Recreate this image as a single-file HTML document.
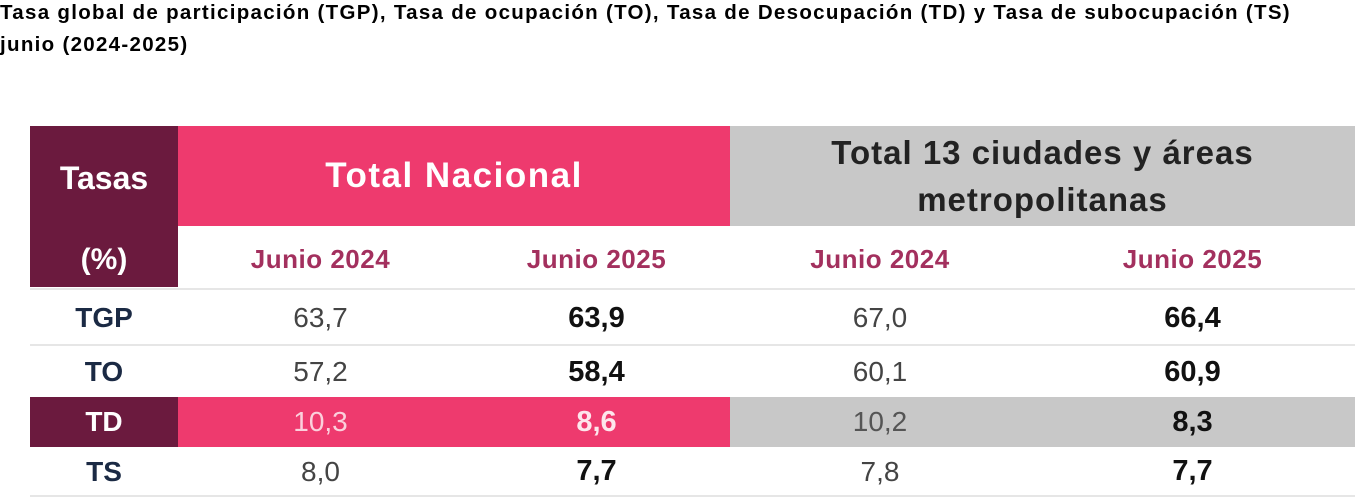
<!DOCTYPE html>
<html><head><meta charset="utf-8"><style>
body{margin:0;width:1355px;height:497px;background:#fff;font-family:"Liberation Sans","DejaVu Sans",sans-serif;position:relative;overflow:hidden}
.a{position:absolute}
.t{left:0;font-weight:bold;font-size:20.5px;letter-spacing:1.3px;color:#000;line-height:24px;white-space:nowrap}
.c{position:absolute;display:flex;align-items:center;justify-content:center;text-align:center}
.v{font-size:28px;color:#444}
.b{font-size:29px;font-weight:bold;color:#111}
.l{font-size:28px;font-weight:bold;color:#1b2a44}
.s{font-size:26px;font-weight:bold;color:#a3305e;letter-spacing:0.5px}
.line{position:absolute;left:30px;width:1325px;height:2px;background:#e6e6e6}
</style></head><body>
<div class="a t" style="top:1px">Tasa global de participación (TGP), Tasa de ocupación (TO), Tasa de Desocupación (TD) y Tasa de subocupación (TS)</div>
<div class="a t" style="top:33px">junio (2024-2025)</div>

<div class="a" style="left:30px;top:126px;width:148px;height:161px;background:#6b1a3e"></div>
<div class="a" style="left:178px;top:126px;width:552px;height:100px;background:#ee3a6e"></div>
<div class="a" style="left:730px;top:126px;width:625px;height:100px;background:#c8c8c8"></div>
<div class="a" style="left:30px;top:397px;width:148px;height:50px;background:#6b1a3e"></div>
<div class="a" style="left:178px;top:397px;width:552px;height:50px;background:#ee3a6e"></div>
<div class="a" style="left:730px;top:397px;width:625px;height:50px;background:#c8c8c8"></div>
<div class="line" style="top:288px"></div>
<div class="line" style="top:344px"></div>
<div class="line" style="top:495px"></div>

<div class="c" style="left:30px;top:150px;width:148px;height:56px;color:#fff;font-weight:bold;font-size:32px">Tasas</div>
<div class="c" style="left:30px;top:232px;width:148px;height:56px;color:#fff;font-weight:bold;font-size:30px">(%)</div>
<div class="c" style="left:178px;top:146px;width:552px;height:60px;color:#fff;font-weight:bold;font-size:35px;letter-spacing:1.5px">Total Nacional</div>
<div class="c" style="left:730px;top:126px;width:625px;height:100px;color:#222;font-weight:bold;font-size:33px;line-height:47px;letter-spacing:1px">Total 13 ciudades y áreas<br>metropolitanas</div>

<div class="c s" style="left:178px;top:232px;width:285px;height:55px">Junio 2024</div>
<div class="c s" style="left:463px;top:232px;width:267px;height:55px">Junio 2025</div>
<div class="c s" style="left:730px;top:232px;width:300px;height:55px">Junio 2024</div>
<div class="c s" style="left:1030px;top:232px;width:325px;height:55px">Junio 2025</div>

<div class="c l" style="left:30px;top:292px;width:148px;height:52px">TGP</div>
<div class="c v" style="left:178px;top:292px;width:285px;height:52px">63,7</div>
<div class="c b" style="left:463px;top:292px;width:267px;height:52px">63,9</div>
<div class="c v" style="left:730px;top:292px;width:300px;height:52px">67,0</div>
<div class="c b" style="left:1030px;top:292px;width:325px;height:52px">66,4</div>

<div class="c l" style="left:30px;top:347px;width:148px;height:50px">TO</div>
<div class="c v" style="left:178px;top:347px;width:285px;height:50px">57,2</div>
<div class="c b" style="left:463px;top:347px;width:267px;height:50px">58,4</div>
<div class="c v" style="left:730px;top:347px;width:300px;height:50px">60,1</div>
<div class="c b" style="left:1030px;top:347px;width:325px;height:50px">60,9</div>

<div class="c l" style="left:30px;top:397px;width:148px;height:50px;color:#fff">TD</div>
<div class="c v" style="left:178px;top:397px;width:285px;height:50px;color:#fbd0dc">10,3</div>
<div class="c b" style="left:463px;top:397px;width:267px;height:50px;color:#fde6ec">8,6</div>
<div class="c v" style="left:730px;top:397px;width:300px;height:50px;color:#555">10,2</div>
<div class="c b" style="left:1030px;top:397px;width:325px;height:50px">8,3</div>

<div class="c l" style="left:30px;top:448px;width:148px;height:47px">TS</div>
<div class="c v" style="left:178px;top:448px;width:285px;height:47px">8,0</div>
<div class="c b" style="left:463px;top:448px;width:267px;height:47px">7,7</div>
<div class="c v" style="left:730px;top:448px;width:300px;height:47px">7,8</div>
<div class="c b" style="left:1030px;top:448px;width:325px;height:47px">7,7</div>
</body></html>
